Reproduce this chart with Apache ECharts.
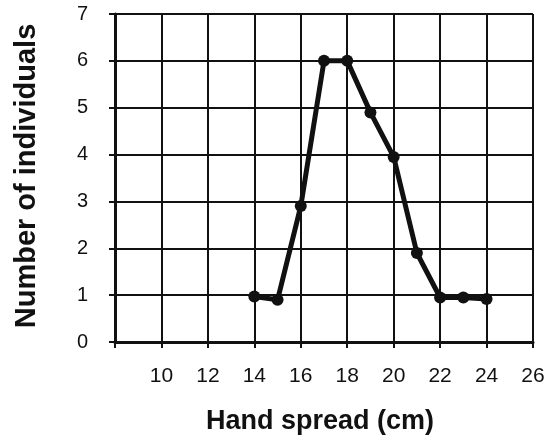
<!DOCTYPE html>
<html><head><meta charset="utf-8">
<script src="https://cdn.jsdelivr.net/npm/echarts@6/dist/echarts.min.js"></script>
<style>html,body{margin:0;padding:0;background:#fff}#c{width:548px;height:443px}</style>
</head><body><div id="c"></div>
<script>
const handSpread = [14, 15, 16, 17, 18, 19, 20, 21, 22, 23, 24];
const individuals = [0.97, 0.9, 2.9, 6, 6, 4.9, 3.95, 1.9, 0.95, 0.95, 0.92];
const xTitle = 'Hand spread (cm)';
const yTitle = 'Number of individuals';
const chart = echarts.init(document.getElementById('c'));
const font = 'Liberation Sans, Arial, sans-serif';
chart.setOption({
  animation: false,
  grid: {left: 115, right: 15, top: 14, bottom: 101, containLabel: false},
  xAxis: {
    type: 'value', min: 8, max: 26, interval: 2,
    name: xTitle, nameLocation: 'middle', nameGap: 66,
    nameTextStyle: {fontFamily: font, fontSize: 27, fontWeight: 'bold', color: '#111', padding: [0,8,0,0]},
    axisLine: {show: true, onZero: false, lineStyle: {color: '#111', width: 3}},
    axisTick: {show: true, length: 6, lineStyle: {color: '#111', width: 2}},
    axisLabel: {fontFamily: font, fontSize: 21, color: '#111', margin: 24,
      formatter: v => v === 8 ? '' : String(v)},
    splitLine: {show: true, lineStyle: {color: '#111', width: 2}}
  },
  yAxis: {
    type: 'value', min: 0, max: 7, interval: 1,
    name: yTitle, nameLocation: 'middle', nameGap: 74,
    nameTextStyle: {fontFamily: font, fontSize: 29, fontWeight: 'bold', color: '#111', padding: [0,0,0,4]},
    axisLine: {show: true, lineStyle: {color: '#111', width: 3}},
    axisTick: {show: true, length: 6, lineStyle: {color: '#111', width: 2}},
    axisLabel: {fontFamily: font, fontSize: 20, color: '#111', margin: 27},
    splitLine: {show: true, lineStyle: {color: '#111', width: 2}}
  },
  series: [{
    type: 'line',
    data: handSpread.map((x, i) => [x, individuals[i]]),
    symbol: 'circle', symbolSize: 12,
    lineStyle: {color: '#111', width: 5},
    itemStyle: {color: '#111'}
  }]
});
</script></body></html>
